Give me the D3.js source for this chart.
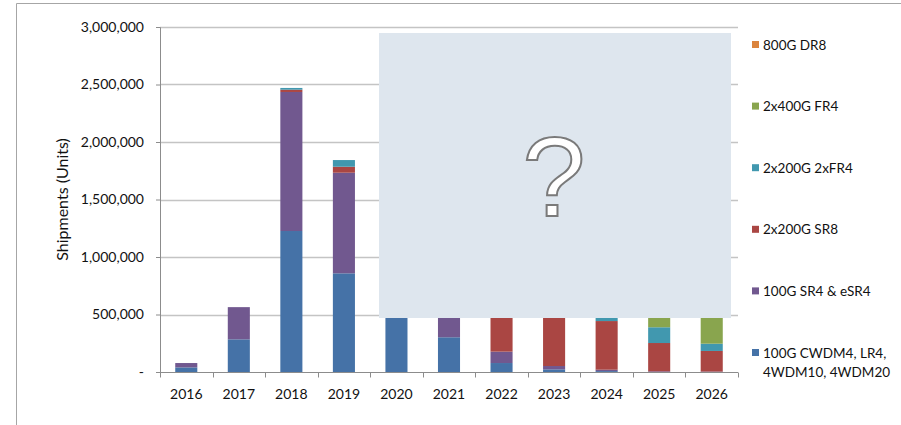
<!DOCTYPE html>
<html>
<head>
<meta charset="utf-8">
<script src="https://cdn.jsdelivr.net/npm/d3@7"></script>
<style>
  body { margin: 0; background: #fff; }
  svg text { font-family: Lato, "Open Sans", sans-serif; fill: #111; }
</style>
</head>
<body>
<div id="visualization_container"></div>
<script>
var years = ["2016", "2017", "2018", "2019", "2020", "2021", "2022", "2023", "2024", "2025", "2026"];
var seriesNames = ["100G CWDM4, LR4, 4WDM10, 4WDM20", "100G SR4 & eSR4", "2x200G SR8", "2x200G 2xFR4", "2x400G FR4", "800G DR8"];
// values per series (bottom of stack first); 2020+ upper parts are hidden in the reference, estimated
var cwdm4 = [40000, 284000, 1226000, 858000, 700000, 302000, 78000, 23000, 8000, 0, 0];
var sr4 = [38000, 280000, 1209000, 875000, 300000, 250000, 99000, 29000, 12000, 6000, 4000];
var sr8 = [0, 0, 20000, 52000, 150000, 300000, 500000, 600000, 423000, 246000, 179000];
var fr4x2 = [0, 0, 15000, 58000, 100000, 150000, 200000, 250000, 300000, 137000, 63000];
var fr4x400 = [0, 0, 0, 0, 0, 20000, 100000, 200000, 400000, 500000, 700000];
var dr8 = [0, 0, 0, 0, 0, 0, 0, 20000, 100000, 300000, 500000];
var yTicks = [0, 500000, 1000000, 1500000, 2000000, 2500000, 3000000];
var colors = ["#4572a7", "#71588f", "#aa4643", "#4198af", "#89a54e", "#db843d"];

var width = 901;
var height = 425;
var margin = {top: 27, right: 163, bottom: 53, left: 160};

var svg = d3.select("#visualization_container")
    .append("svg")
    .attr("width", width)
    .attr("height", height);

// outer chart frame (top and left edges visible)
svg.append("path")
    .attr("d", "M16.5,425 V3.5 H901")
    .attr("fill", "none")
    .attr("stroke", "#a6a6a6")
    .attr("stroke-width", 1);

var table = years.map(function(y, i) {
    var row = {year: y};
    row[seriesNames[0]] = cwdm4[i];
    row[seriesNames[1]] = sr4[i];
    row[seriesNames[2]] = sr8[i];
    row[seriesNames[3]] = fr4x2[i];
    row[seriesNames[4]] = fr4x400[i];
    row[seriesNames[5]] = dr8[i];
    return row;
});
var stacked = d3.stack().keys(seriesNames)(table);

var x = d3.scaleBand()
    .domain(years)
    .range([margin.left, width - margin.right])
    .paddingInner(0.58)
    .paddingOuter(0.29);

var y = d3.scaleLinear()
    .domain([0, 3000000])
    .range([height - margin.bottom, margin.top]);

var z = d3.scaleOrdinal().domain(seriesNames).range(colors);

// gridlines
svg.append("g")
    .selectAll("line")
    .data(yTicks.slice(1))
    .join("line")
    .attr("x1", margin.left)
    .attr("x2", width - margin.right)
    .attr("y1", d => Math.round(y(d)) + 0.5)
    .attr("y2", d => Math.round(y(d)) + 0.5)
    .attr("stroke", "#c4c4c4")
    .attr("stroke-width", 1.3);

// bars
svg.append("g")
    .selectAll("g")
    .data(stacked)
    .join("g")
    .attr("fill", d => z(d.key))
    .selectAll("rect")
    .data(d => d)
    .join("rect")
    .attr("x", d => x(d.data.year))
    .attr("width", x.bandwidth())
    .attr("y", d => y(d[1]))
    .attr("height", d => y(d[0]) - y(d[1]));

// y axis
var yAxis = svg.append("g")
    .attr("transform", "translate(" + margin.left + ",0)")
    .call(d3.axisLeft(y).tickValues(yTicks).tickSize(4).tickPadding(12)
        .tickFormat(d => d === 0 ? "-" : d3.format(",")(d)));
yAxis.select(".domain").attr("stroke", "#8c8c8c");
yAxis.selectAll(".tick line").attr("stroke", "#8c8c8c");
yAxis.selectAll("text").attr("font-size", 14).style("font-family", "Lato, sans-serif").attr("fill", "#111");

// x axis with ticks between categories
var xAxisG = svg.append("g")
    .attr("transform", "translate(0," + (y(0) + 0.5) + ")");
xAxisG.append("line")
    .attr("x1", margin.left)
    .attr("x2", width - margin.right)
    .attr("stroke", "#8c8c8c");
var step = x.step();
xAxisG.selectAll(".sep")
    .data(years.concat(["end"]))
    .join("line")
    .attr("x1", (d, i) => Math.round(margin.left + i * step) + 0.5)
    .attr("x2", (d, i) => Math.round(margin.left + i * step) + 0.5)
    .attr("y1", 0)
    .attr("y2", 5)
    .attr("stroke", "#8c8c8c");
xAxisG.selectAll(".lbl")
    .data(years)
    .join("text")
    .attr("x", d => x(d) + x.bandwidth() / 2)
    .attr("y", 26)
    .attr("text-anchor", "middle")
    .attr("font-size", 14)
    .text(d => d);

// y axis title
svg.append("text")
    .attr("transform", "translate(68," + ((y(0) + y(3000000)) / 2) + ") rotate(-90)")
    .attr("text-anchor", "middle")
    .attr("font-size", 16)
    .text("Shipments (Units)");

// hidden-forecast overlay box
svg.append("rect")
    .attr("x", 379)
    .attr("y", 33)
    .attr("width", 352)
    .attr("height", 285)
    .attr("fill", "#dee6ee");
svg.append("text")
    .attr("x", 554)
    .attr("y", 216)
    .attr("text-anchor", "middle")
    .attr("font-size", 114)
    .style("font-family", "'Liberation Sans', sans-serif")
    .style("font-weight", 400)
    .style("fill", "#fff")
    .attr("stroke", "#7a7a7a")
    .attr("stroke-width", 2)
    .text("?");

// legend, top item is last series
var legend = svg.append("g");
var legendItems = seriesNames.slice().reverse();
var leg = legend.selectAll("g")
    .data(legendItems)
    .join("g")
    .attr("transform", (d, i) => "translate(752," + (45 + i * 61.6) + ")");
leg.append("rect")
    .attr("x", 0)
    .attr("y", -4)
    .attr("width", 7)
    .attr("height", 7)
    .attr("fill", d => z(d));
leg.append("text")
    .attr("x", 11)
    .attr("y", 4.5)
    .attr("font-size", 13.5)
    .each(function(d) {
        var t = d3.select(this);
        if (d === seriesNames[0]) {
            t.append("tspan").attr("x", 11).text("100G CWDM4, LR4,");
            t.append("tspan").attr("x", 11).attr("dy", 19).text("4WDM10, 4WDM20");
        } else {
            t.text(d);
        }
    });
</script>
</body>
</html>
